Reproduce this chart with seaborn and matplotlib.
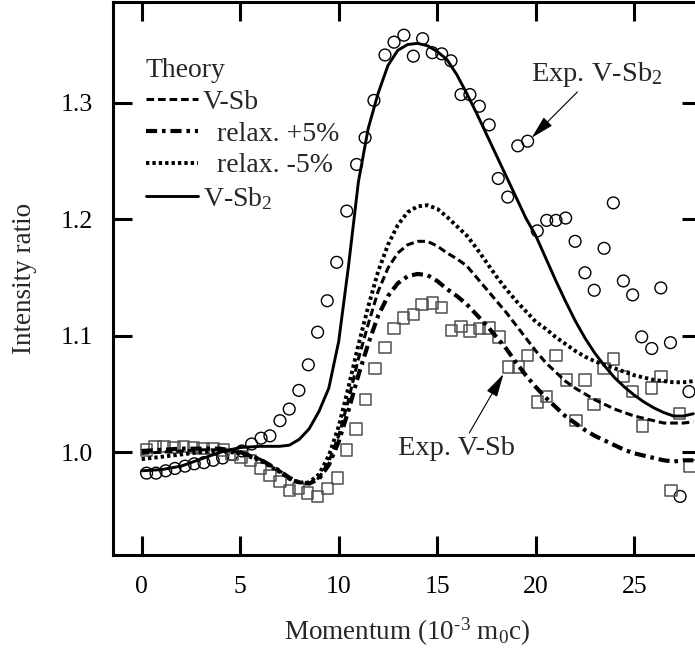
import matplotlib
matplotlib.use("Agg")
import matplotlib.pyplot as plt
import seaborn as sns

# theory curves (momentum in 10^-3 m0c, intensity ratio)
theory_x = [0, 1, 2, 3, 4, 5, 6, 7, 7.5, 8, 8.5, 9, 9.5, 10, 10.5, 11, 11.5, 12, 12.5,
            13, 13.5, 14, 14.5, 15, 15.5, 16, 16.5, 17, 17.5, 18, 18.5, 19, 19.5, 20,
            20.5, 21, 21.5, 22, 22.5, 23, 23.5, 24, 24.5, 25, 25.5, 26, 26.5, 27, 27.5, 28]

v_sb = [0.999, 1.000, 1.001, 1.002, 1.002, 1.000, 0.994, 0.984, 0.978, 0.974, 0.973,
        0.978, 0.992, 1.014, 1.045, 1.080, 1.110, 1.138, 1.158, 1.171, 1.178, 1.181,
        1.181, 1.177, 1.171, 1.166, 1.160, 1.150, 1.140, 1.130, 1.120, 1.109, 1.098,
        1.087, 1.077, 1.069, 1.061, 1.055, 1.050, 1.045, 1.041, 1.037, 1.034, 1.031,
        1.029, 1.027, 1.025, 1.025, 1.025, 1.026]

relax_plus5 = [1.001, 1.002, 1.003, 1.003, 1.003, 1.000, 0.994, 0.984, 0.978, 0.974,
               0.973, 0.977, 0.989, 1.009, 1.036, 1.066, 1.093, 1.117, 1.134, 1.145,
               1.151, 1.153, 1.152, 1.147, 1.140, 1.134, 1.127, 1.118, 1.109, 1.099,
               1.089, 1.077, 1.066, 1.056, 1.047, 1.039, 1.031, 1.025, 1.019, 1.014,
               1.010, 1.006, 1.002, 0.999, 0.997, 0.995, 0.993, 0.992, 0.993, 0.993]

relax_minus5 = [0.994, 0.996, 0.998, 1.000, 1.001, 0.999, 0.993, 0.983, 0.977, 0.974,
                0.974, 0.981, 0.997, 1.022, 1.056, 1.092, 1.125, 1.155, 1.178, 1.195,
                1.206, 1.211, 1.212, 1.209, 1.202, 1.194, 1.186, 1.175, 1.163, 1.151,
                1.140, 1.130, 1.121, 1.112, 1.106, 1.099, 1.093, 1.087, 1.082, 1.078,
                1.075, 1.072, 1.069, 1.066, 1.064, 1.062, 1.061, 1.060, 1.060, 1.061]

v_sb2 = [0.984, 0.985, 0.988, 0.994, 1.000, 1.004, 1.005, 1.005, 1.006, 1.011, 1.020,
         1.035, 1.055, 1.095, 1.160, 1.232, 1.278, 1.308, 1.332, 1.345, 1.350, 1.351,
         1.349, 1.344, 1.337, 1.324, 1.308, 1.291, 1.273, 1.255, 1.237, 1.219, 1.201,
         1.186, 1.167, 1.148, 1.130, 1.113, 1.098, 1.085, 1.074, 1.064, 1.056, 1.049,
         1.043, 1.038, 1.034, 1.031, 1.031, 1.033]

# experiment V-Sb2 (circles)
exp_sb2_x = [0.25, 0.73, 1.22, 1.69, 2.20, 2.67, 3.16, 3.63, 4.11, 4.58, 5.09, 5.58,
             6.06, 6.51, 7.02, 7.49, 7.98, 8.46, 8.93, 9.42, 9.90, 10.41, 10.91, 11.34,
             11.79, 12.35, 12.81, 13.31, 13.79, 14.26, 14.75, 15.23, 15.70, 16.21, 16.66,
             17.14, 17.64, 18.10, 18.58, 19.09, 19.59, 20.08, 20.56, 21.03, 21.52, 22.00,
             22.50, 22.97, 23.47, 23.94, 24.45, 24.92, 25.38, 25.89, 26.35, 26.84, 27.33,
             27.78]
exp_sb2_y = [0.982, 0.982, 0.984, 0.986, 0.988, 0.990, 0.991, 0.993, 0.995, 0.998, 1.001,
             1.007, 1.012, 1.014, 1.027, 1.037, 1.053, 1.075, 1.103, 1.130, 1.163, 1.207,
             1.247, 1.270, 1.302, 1.341, 1.352, 1.358, 1.340, 1.355, 1.343, 1.342, 1.336,
             1.307, 1.307, 1.297, 1.281, 1.235, 1.219, 1.263, 1.267, 1.190, 1.199, 1.199,
             1.201, 1.181, 1.154, 1.139, 1.175, 1.214, 1.147, 1.135, 1.099, 1.089, 1.141,
             1.094, 0.962, 1.052]

# experiment V-Sb (squares)
exp_sb_x = [0.25, 0.67, 1.14, 1.64, 2.11, 2.62, 3.12, 3.63, 4.14, 4.58, 5.04, 5.53, 6.04,
            6.51, 7.02, 7.49, 7.95, 8.43, 8.93, 9.44, 9.93, 10.41, 10.88, 11.37, 11.84,
            12.35, 12.81, 13.28, 13.79, 14.24, 14.75, 15.23, 15.74, 16.21, 16.66, 17.14,
            17.64, 18.13, 18.61, 19.12, 19.59, 20.08, 20.56, 21.03, 21.55, 22.05, 22.50,
            22.97, 23.47, 23.94, 24.45, 24.92, 25.41, 25.89, 26.36, 26.87, 27.31, 27.83]
exp_sb_y = [1.002, 1.0045, 1.005, 1.004, 1.005, 1.004, 1.003, 1.003, 1.002, 0.998, 0.996,
            0.993, 0.986, 0.980, 0.975, 0.967, 0.969, 0.965, 0.962, 0.969, 0.978, 1.002,
            1.020, 1.045, 1.072, 1.090, 1.106, 1.115, 1.118, 1.127, 1.128, 1.124, 1.1045,
            1.108, 1.104, 1.106, 1.1065, 1.099, 1.073, 1.073, 1.083, 1.043, 1.048, 1.083,
            1.062, 1.027, 1.062, 1.041, 1.072, 1.080, 1.065, 1.052, 1.0225, 1.055, 1.065,
            0.967, 1.033, 0.988]

x_ticks = [0, 5, 10, 15, 20, 25]
y_ticks = [1.0, 1.1, 1.2, 1.3]


def main():
    sns.set_theme(style="ticks")
    plt.rcParams["font.family"] = ["Liberation Serif", "DejaVu Serif"]
    plt.rcParams["mathtext.default"] = "regular"
    plt.rcParams["lines.scale_dashes"] = False

    fig = plt.figure(figsize=(6.95, 6.54), dpi=100)
    ax = fig.add_axes([112.7 / 695, 99 / 654, (701 - 112.7) / 695, 553 / 654])

    sns.scatterplot(x=exp_sb2_x, y=exp_sb2_y, marker="o", s=72, fc="none", ec="black",
                    linewidth=1.0, ax=ax, zorder=2)
    sns.scatterplot(x=exp_sb_x, y=exp_sb_y, marker="s", s=68, fc="none", ec="#505050",
                    linewidth=1.1, ax=ax, zorder=2)

    sns.lineplot(x=theory_x, y=v_sb, color="black", lw=2.2, linestyle=(0, (5.5, 2.8)),
                 label="V-Sb", ax=ax, zorder=3)
    sns.lineplot(x=theory_x, y=relax_plus5, color="black", lw=3.0,
                 linestyle=(0, (8, 3.5, 2.6, 3.5)), label="  relax. +5%", ax=ax, zorder=3)
    sns.lineplot(x=theory_x, y=relax_minus5, color="black", lw=2.8,
                 linestyle=(0, (2.4, 2.2)), label="  relax. -5%", ax=ax, zorder=3)
    sns.lineplot(x=theory_x, y=v_sb2, color="black", lw=2.1, linestyle="-",
                 label="V-Sb$_2$", ax=ax, zorder=3)

    ax.set_xlim(-1.47, 28.39)
    ax.set_ylim(0.9117, 1.3865)
    ax.set_xticks(x_ticks)
    ax.set_yticks(y_ticks)
    ax.set_yticklabels(["%.1f" % v for v in y_ticks])

    for side in ["left", "right", "top", "bottom"]:
        ax.spines[side].set_visible(True)
        ax.spines[side].set_linewidth(2.2)
        ax.spines[side].set_color("black")
    ax.tick_params(direction="in", length=14, width=2.2, top=True, right=True,
                   labelsize=18.5, colors="black")
    ax.tick_params(axis="x", pad=15)
    ax.tick_params(axis="y", pad=14)

    ax.set_xlabel("Momentum (10$^{\u20103}$ m$_0$c)", fontsize=19.5, labelpad=13)
    ax.set_ylabel("Intensity ratio", fontsize=19.5, labelpad=17)

    handles, labels = ax.get_legend_handles_labels()
    ax.legend(handles, labels, title="Theory", loc="upper left",
              bbox_to_anchor=(0.056, 0.899), frameon=False, fontsize=20,
              title_fontsize=20, alignment="left", borderpad=0, borderaxespad=0,
              handlelength=1.87, handletextpad=0.2, labelspacing=0.23)

    arrow = dict(arrowstyle="-|>,head_width=0.18,head_length=0.7",
                 color="black", lw=0.8, shrinkA=0, shrinkB=0)
    ax.annotate("Exp. V-Sb$_2$", xy=(19.8, 1.270), xytext=(19.75, 1.319),
                fontsize=20.5, va="baseline", ha="left",
                arrowprops=dict(arrow, relpos=(0.38, 0)))
    ax.annotate("Exp. V-Sb", xy=(18.36, 1.067), xytext=(13.03, 0.9974),
                fontsize=20.5, va="baseline", ha="left",
                arrowprops=dict(arrow, relpos=(0.59, 1.0)))

    plt.savefig("out.png", dpi=100)


if __name__ == "__main__":
    main()
